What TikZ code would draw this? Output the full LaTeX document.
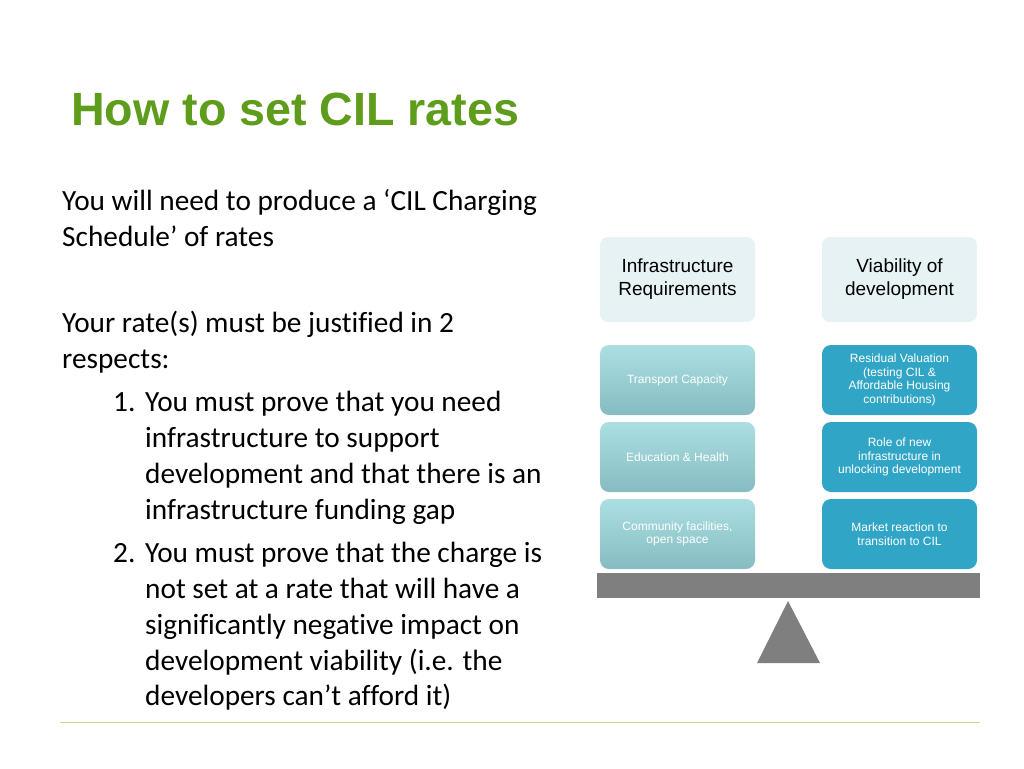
\documentclass[tikz,border=0pt]{standalone}
\usepackage{fontspec}
\setmainfont[Ligatures=NoCommon]{Carlito}
\newfontfamily\arialf{Liberation Sans}
\begin{document}
\begin{tikzpicture}[x=1pt,y=-1pt,
  body/.style={anchor=base west,inner sep=0pt,font=\fontsize{29.3}{30}\selectfont},
  hdr/.style={rounded corners=8pt,fill=hdrc,minimum width=155pt,minimum height=85pt,align=center,font=\arialf\fontsize{19}{23}\selectfont},
  lbox/.style={rounded corners=9pt,top color=lt1,bottom color=lt2,minimum width=155pt,minimum height=70pt,align=center,text=white,font=\arialf\fontsize{12}{13.5}\selectfont},
  rbox/.style={rounded corners=9pt,fill=rc,minimum width=155pt,minimum height=70pt,align=center,text=white,font=\arialf\fontsize{12}{13.5}\selectfont}]
\definecolor{titleg}{HTML}{5E9C1C}
\definecolor{hdrc}{HTML}{E6F2F3}
\definecolor{lt1}{HTML}{ABDFE2}
\definecolor{lt2}{HTML}{86BCC1}
\definecolor{rc}{HTML}{31A5C6}
\definecolor{beam}{HTML}{7F7F7F}
\definecolor{lineg}{HTML}{C5DC8A}
\useasboundingbox (0,0) rectangle (1024,768);
\node[anchor=base west,inner sep=0pt,text=titleg,font=\arialf\bfseries\fontsize{46.6}{50}\selectfont] (title) at (71,125) {How to set CIL rates};
\node[body] (t1) at (62,210) {You will need to produce a ‘CIL Charging};
\node[body] (t2) at (62,246) {Schedule’ of rates};
\node[body] (t3) at (62,332) {Your rate(s) must be justified in 2};
\node[body] (t4) at (62,368) {respects:};
\node[body] (n1) at (113,411) {1.};
\node[body] (a1) at (145,411) {You must prove that you need};
\node[body] (a2) at (145,447) {infrastructure to support};
\node[body] (a3) at (145,483) {development and that there is an};
\node[body] (a4) at (145,519) {infrastructure funding gap};
\node[body] (n2) at (113,562) {2.};
\node[body] (b1) at (145,562) {You must prove that the charge is};
\node[body] (b2) at (145,598) {not set at a rate that will have a};
\node[body] (b3) at (145,634) {significantly negative impact on};
\node[body] (b4) at (145,670) {development viability (i.e. the};
\node[body] (b5) at (145,705) {developers can’t afford it)};
\node[hdr] (h1) at (677.5,279.5) {Infrastructure\\Requirements};
\node[hdr] (h2) at (899.5,279.5) {Viability of\\development};
\node[lbox] (l1) at (677.5,380) {Transport Capacity};
\node[lbox] (l2) at (677.5,457) {Education \& Health};
\node[lbox] (l3) at (677.5,534) {Community facilities,\\open space};
\node[rbox] (r1) at (899.5,380) {Residual Valuation\\(testing CIL \&\\Affordable Housing\\contributions)};
\node[rbox] (r2) at (899.5,457) {Role of new\\infrastructure in\\unlocking development};
\node[rbox] (r3) at (899.5,534) {Market reaction to\\transition to CIL};
\fill[beam] (597,573) rectangle (980,598);
\fill[beam] (788,601) -- (820,663) -- (757,663) -- cycle;
\draw[lineg,line width=1pt] (60,722) -- (980,722);
\end{tikzpicture}
\end{document}
